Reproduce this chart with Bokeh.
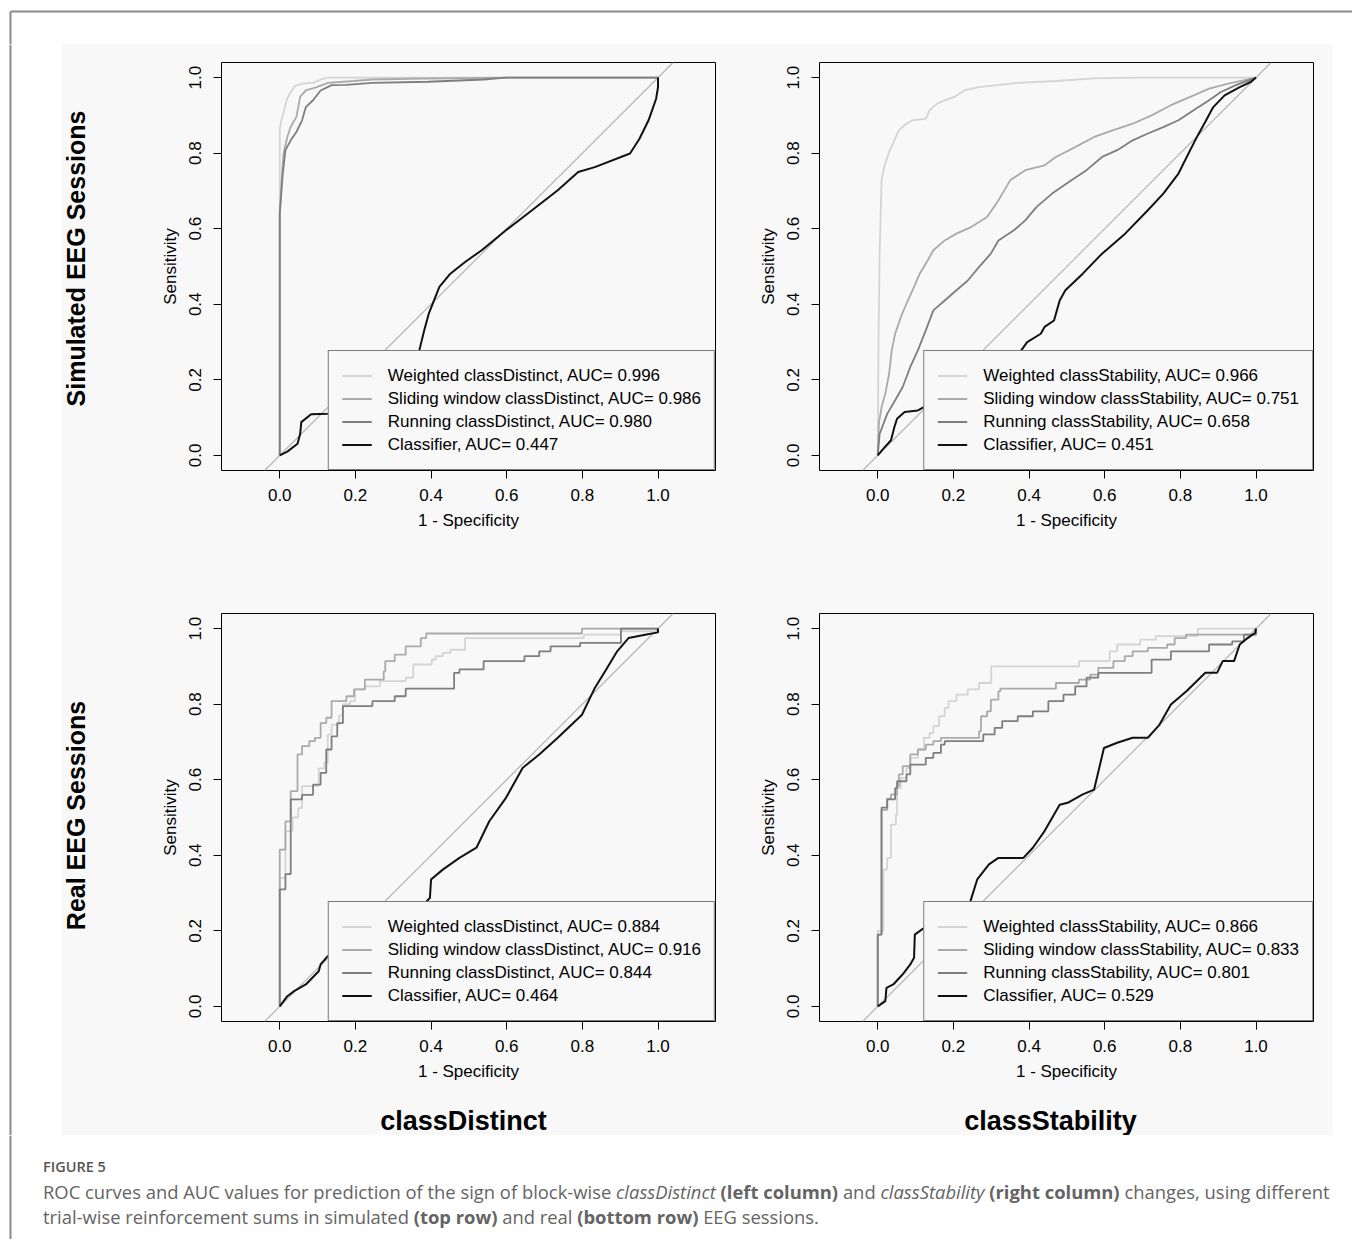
from bokeh.plotting import figure
from bokeh.models import (Range1d, Legend, LegendItem, Slope, FixedTicker,
                          NumeralTickFormatter, Div, Label)
from bokeh.layouts import column, row
from bokeh.embed import file_html
from bokeh.resources import INLINE
from bokeh.core.properties import value

# ---------------------------------------------------------------- data
TICKS = [0.0, 0.2, 0.4, 0.6, 0.8, 1.0]

# Simulated sessions, classDistinct
SIM_DIST_AUC = [0.996, 0.986, 0.980, 0.447]
SIM_DIST_W_X = [0, 0, 0.005, 0.012, 0.018, 0.027, 0.039, 0.059, 0.088, 0.108, 0.127, 1.0]
SIM_DIST_W_Y = [0, 0.865, 0.89, 0.914, 0.94, 0.958, 0.977, 0.984, 0.986, 0.995, 1.0, 1.0]
SIM_DIST_S_X = [0, 0, 0.005, 0.01, 0.02, 0.029, 0.044, 0.054, 0.069, 0.098, 0.127, 0.196, 0.245, 0.343, 0.598, 1.0]
SIM_DIST_S_Y = [0, 0.64, 0.73, 0.80, 0.843, 0.87, 0.896, 0.949, 0.966, 0.975, 0.986, 0.991, 0.995, 0.997, 1.0, 1.0]
SIM_DIST_R_X = [0, 0, 0.008, 0.015, 0.029, 0.044, 0.059, 0.069, 0.088, 0.108, 0.137, 0.176, 0.245, 0.392, 0.539, 0.598, 1.0]
SIM_DIST_R_Y = [0, 0.64, 0.746, 0.808, 0.834, 0.856, 0.887, 0.922, 0.94, 0.966, 0.98, 0.981, 0.986, 0.989, 0.995, 1.0, 1.0]
SIM_DIST_C_X = [0, 0.02, 0.047, 0.054, 0.057, 0.083, 0.127, 0.2, 0.3, 0.368, 0.382, 0.394, 0.422, 0.451, 0.49,
                0.534, 0.598, 0.667, 0.735, 0.789, 0.833, 0.926, 0.951, 0.975, 0.995, 1.0, 1.0]
SIM_DIST_C_Y = [0, 0.01, 0.031, 0.057, 0.088, 0.109, 0.110, 0.15, 0.21, 0.274, 0.331, 0.375, 0.446, 0.481, 0.512,
                0.543, 0.596, 0.649, 0.702, 0.75, 0.763, 0.799, 0.838, 0.887, 0.944, 0.975, 1.0]

# Simulated sessions, classStability
SIM_STAB_AUC = [0.966, 0.751, 0.658, 0.451]
SIM_STAB_W_X = [0, 0.002, 0.005, 0.01, 0.017, 0.03, 0.044, 0.056, 0.076, 0.091, 0.127, 0.137, 0.157, 0.177,
                0.203, 0.228, 0.268, 0.37, 0.471, 0.572, 0.674, 1.0]
SIM_STAB_W_Y = [0, 0.30, 0.534, 0.728, 0.763, 0.803, 0.834, 0.861, 0.878, 0.887, 0.891, 0.914, 0.931, 0.94,
                0.949, 0.966, 0.975, 0.986, 0.991, 0.998, 1.0, 1.0]
SIM_STAB_S_X = [0, 0.003, 0.01, 0.02, 0.03, 0.037, 0.046, 0.061, 0.076, 0.096, 0.111, 0.132, 0.147, 0.177, 0.208,
                0.248, 0.289, 0.319, 0.35, 0.39, 0.441, 0.471, 0.522, 0.572, 0.623, 0.674, 0.724, 0.775, 0.826,
                0.876, 0.927, 0.978, 1.0]
SIM_STAB_S_Y = [0, 0.084, 0.128, 0.163, 0.216, 0.278, 0.322, 0.366, 0.402, 0.446, 0.481, 0.516, 0.543, 0.569, 0.587,
                0.605, 0.631, 0.675, 0.728, 0.755, 0.768, 0.79, 0.816, 0.843, 0.861, 0.878, 0.9, 0.927, 0.949,
                0.971, 0.984, 0.995, 1.0]
SIM_STAB_R_X = [0, 0.005, 0.025, 0.046, 0.066, 0.086, 0.106, 0.127, 0.147, 0.177, 0.208, 0.238, 0.268, 0.299,
                0.319, 0.36, 0.39, 0.42, 0.461, 0.512, 0.552, 0.593, 0.633, 0.674, 0.714, 0.755, 0.795, 0.836,
                0.876, 0.907, 0.947, 1.0]
SIM_STAB_R_Y = [0, 0.057, 0.11, 0.146, 0.181, 0.234, 0.278, 0.331, 0.384, 0.41, 0.437, 0.463, 0.499, 0.534,
                0.569, 0.596, 0.622, 0.658, 0.693, 0.728, 0.755, 0.79, 0.808, 0.834, 0.852, 0.869, 0.887, 0.914,
                0.94, 0.962, 0.98, 1.0]
SIM_STAB_C_X = [0, 0.015, 0.035, 0.044, 0.051, 0.071, 0.106, 0.2, 0.3, 0.375, 0.395, 0.431, 0.441, 0.466, 0.481,
                0.496, 0.542, 0.593, 0.654, 0.714, 0.755, 0.795, 0.826, 0.846, 0.866, 0.887, 0.917, 0.957, 0.987, 1.0]
SIM_STAB_C_Y = [0, 0.018, 0.04, 0.075, 0.097, 0.115, 0.119, 0.17, 0.23, 0.272, 0.3, 0.322, 0.34, 0.357, 0.41,
                0.437, 0.481, 0.534, 0.587, 0.649, 0.693, 0.746, 0.808, 0.847, 0.883, 0.922, 0.953, 0.975, 0.989, 1.0]

# Real sessions, classDistinct (ROC points; step curves)
REAL_DIST_AUC = [0.884, 0.916, 0.844, 0.464]
REAL_DIST_W_X = [0, 0, 0.015, 0.034, 0.049, 0.059, 0.103, 0.118, 0.127, 0.137, 0.157, 0.167, 0.186, 0.199, 0.225,
                 0.265, 0.333, 0.353, 0.402, 0.412, 0.431, 0.451, 0.49, 0.804, 0.902, 1.0]
REAL_DIST_W_Y = [0, 0.34, 0.464, 0.5, 0.525, 0.583, 0.63, 0.645, 0.72, 0.746, 0.77, 0.8, 0.808, 0.839, 0.847,
                 0.861, 0.87, 0.905, 0.918, 0.927, 0.936, 0.944, 0.975, 0.984, 0.993, 1.0]
REAL_DIST_S_X = [0, 0, 0.015, 0.029, 0.047, 0.059, 0.078, 0.093, 0.108, 0.123, 0.137, 0.176, 0.196, 0.225, 0.275,
                 0.279, 0.304, 0.333, 0.373, 0.387, 0.799, 1.0]
REAL_DIST_S_Y = [0, 0.415, 0.49, 0.57, 0.667, 0.689, 0.702, 0.711, 0.75, 0.764, 0.808, 0.821, 0.839, 0.865, 0.887,
                 0.914, 0.931, 0.953, 0.975, 0.987, 1.0, 1.0]
REAL_DIST_R_X = [0, 0, 0.015, 0.029, 0.059, 0.088, 0.108, 0.123, 0.137, 0.152, 0.167, 0.245, 0.304, 0.333, 0.461,
                 0.475, 0.539, 0.647, 0.686, 0.716, 0.794, 0.902, 1.0]
REAL_DIST_R_Y = [0, 0.31, 0.35, 0.548, 0.56, 0.587, 0.618, 0.68, 0.715, 0.75, 0.795, 0.808, 0.821, 0.841, 0.883,
                 0.892, 0.914, 0.927, 0.94, 0.953, 0.962, 1.0, 1.0]
REAL_DIST_C_X = [0, 0.02, 0.039, 0.069, 0.103, 0.108, 0.127, 0.2, 0.3, 0.382, 0.397, 0.4, 0.431, 0.475, 0.52, 0.554,
                 0.598, 0.642, 0.686, 0.735, 0.799, 0.833, 0.863, 0.892, 0.922, 0.966, 1.0, 1.0]
REAL_DIST_C_Y = [0, 0.027, 0.041, 0.058, 0.093, 0.111, 0.133, 0.18, 0.24, 0.272, 0.287, 0.336, 0.362, 0.393, 0.42,
                 0.49, 0.552, 0.631, 0.667, 0.711, 0.772, 0.843, 0.892, 0.94, 0.975, 0.984, 0.99, 1.0]

# Real sessions, classStability (ROC points; step curves)
REAL_STAB_AUC = [0.866, 0.833, 0.801, 0.529]
REAL_STAB_W_X = [0, 0, 0.015, 0.025, 0.035, 0.048, 0.051, 0.061, 0.076, 0.086, 0.106, 0.122, 0.137, 0.147, 0.162,
                 0.177, 0.187, 0.208, 0.238, 0.268, 0.3, 0.532, 0.613, 0.633, 0.694, 0.735, 0.846, 1.0]
REAL_STAB_W_Y = [0, 0.2, 0.362, 0.393, 0.481, 0.508, 0.578, 0.605, 0.631, 0.658, 0.68, 0.711, 0.724, 0.742, 0.768,
                 0.79, 0.808, 0.825, 0.839, 0.856, 0.9, 0.914, 0.94, 0.958, 0.971, 0.98, 1.0, 1.0]
REAL_STAB_S_X = [0, 0, 0.01, 0.025, 0.035, 0.051, 0.056, 0.066, 0.086, 0.106, 0.127, 0.147, 0.167, 0.268, 0.273,
                 0.289, 0.299, 0.319, 0.324, 0.471, 0.532, 0.562, 0.583, 0.623, 0.653, 0.674, 0.714, 0.765, 0.785,
                 0.815, 0.998, 1.0]
REAL_STAB_S_Y = [0, 0.19, 0.52, 0.55, 0.561, 0.583, 0.614, 0.636, 0.667, 0.68, 0.693, 0.702, 0.711, 0.728, 0.768,
                 0.781, 0.812, 0.834, 0.841, 0.856, 0.865, 0.878, 0.896, 0.914, 0.927, 0.94, 0.949, 0.958, 0.975,
                 0.984, 1.0, 1.0]
REAL_STAB_R_X = [0, 0, 0.01, 0.025, 0.046, 0.051, 0.076, 0.086, 0.127, 0.147, 0.167, 0.177, 0.279, 0.309, 0.329,
                 0.37, 0.41, 0.451, 0.491, 0.522, 0.552, 0.583, 0.724, 0.775, 0.876, 0.937, 0.968, 1.0]
REAL_STAB_R_Y = [0, 0.19, 0.526, 0.548, 0.578, 0.596, 0.614, 0.64, 0.658, 0.671, 0.693, 0.702, 0.72, 0.737, 0.755,
                 0.768, 0.781, 0.808, 0.825, 0.847, 0.87, 0.883, 0.918, 0.94, 0.958, 0.966, 0.984, 1.0]
REAL_STAB_C_X = [0, 0.02, 0.023, 0.041, 0.066, 0.086, 0.096, 0.098, 0.117, 0.18, 0.243, 0.263, 0.294, 0.319, 0.385,
                 0.41, 0.441, 0.481, 0.502, 0.542, 0.572, 0.598, 0.633, 0.674, 0.714, 0.745, 0.775, 0.816, 0.866,
                 0.897, 0.912, 0.942, 0.957, 0.978, 0.998, 1.0]
REAL_STAB_C_Y = [0, 0.014, 0.049, 0.058, 0.085, 0.111, 0.129, 0.19, 0.204, 0.24, 0.272, 0.336, 0.376, 0.393, 0.393,
                 0.42, 0.464, 0.534, 0.539, 0.561, 0.574, 0.684, 0.698, 0.711, 0.711, 0.746, 0.799, 0.834, 0.883,
                 0.883, 0.914, 0.914, 0.958, 0.975, 0.989, 1.0]

ROW_LABELS = ["Simulated EEG Sessions", "Real EEG Sessions"]
COL_LABELS = ["classDistinct", "classStability"]

# ---------------------------------------------------------------- style
BG = "#f8f8f8"
FONT = "Liberation Sans"
COLORS = ["#d4d4d4", "#aaaaaa", "#7e7e7e", "#111111"]
WIDTHS = [1.8, 1.8, 1.8, 2.0]
DIAG = "#b6b6b6"
FRAME = "#8a8a8a"
FRAME_W, FRAME_H = 494, 408


def panel(curves, measure, aucs, steps, bl, br, bt, bb):
    p = figure(frame_width=FRAME_W, frame_height=FRAME_H,
               x_range=Range1d(-0.154, 1.152), y_range=Range1d(-0.04, 1.04),
               min_border_left=bl, min_border_right=br, min_border_top=bt, min_border_bottom=bb,
               output_backend="svg", toolbar_location=None)
    p.background_fill_color = BG
    p.border_fill_color = BG
    p.outline_line_color = "black"
    p.outline_line_width = 1
    p.xgrid.visible = False
    p.ygrid.visible = False
    p.add_layout(Slope(gradient=1, y_intercept=0, line_color=DIAG, line_width=1.2, level="underlay"))

    renderers = []
    for (xs, ys), color, lw, is_step in zip(curves, COLORS, WIDTHS, steps):
        if is_step:
            r = p.step(xs, ys, mode="after", line_color=color, line_width=lw)
        else:
            r = p.line(xs, ys, line_color=color, line_width=lw)
        renderers.append(r)

    for ax in (p.xaxis[0], p.yaxis[0]):
        ax.ticker = FixedTicker(ticks=TICKS)
        ax.formatter = NumeralTickFormatter(format="0.0")
        ax.axis_line_color = None
        ax.major_tick_out = 8
        ax.major_tick_in = 0
        ax.major_tick_line_color = "black"
        ax.minor_tick_line_color = None
        ax.major_label_text_font = FONT
        ax.major_label_text_font_size = "17px"
        ax.major_label_text_color = "black"
        ax.axis_label_text_font = FONT
        ax.axis_label_text_font_size = "17px"
        ax.axis_label_text_font_style = "normal"
        ax.axis_label_text_color = "black"
    p.xaxis.axis_label = "1 - Specificity"
    p.yaxis.axis_label = "Sensitivity"
    p.xaxis.major_label_standoff = 10
    p.xaxis.axis_label_standoff = 7
    p.yaxis.major_label_orientation = "parallel"
    p.yaxis.major_label_standoff = 12
    p.yaxis.axis_label_standoff = 7

    labels = ["Weighted %s, AUC= %.3f" % (measure, aucs[0]),
              "Sliding window %s, AUC= %.3f" % (measure, aucs[1]),
              "Running %s, AUC= %.3f" % (measure, aucs[2]),
              "Classifier, AUC= %.3f" % aucs[3]]
    legend = Legend(items=[LegendItem(label=l, renderers=[r]) for l, r in zip(labels, renderers)],
                    location="bottom_right", margin=0, padding=13, spacing=0,
                    glyph_width=30, glyph_height=23, label_height=23, label_standoff=16,
                    label_text_font=FONT, label_text_font_size="17px", label_text_color="black",
                    border_line_color="black", border_line_width=1,
                    background_fill_color=BG, background_fill_alpha=1.0)
    p.add_layout(legend)
    return p


def blank(w, h, bg):
    # plain drawing area, local pixel coordinates (0,0) at bottom-left
    f = figure(width=w, height=h, x_range=Range1d(0, w), y_range=Range1d(0, h),
               x_axis_type=None, y_axis_type=None, min_border=0,
               output_backend="svg", toolbar_location=None)
    f.outline_line_color = None
    f.background_fill_color = bg
    f.border_fill_color = bg
    f.xgrid.visible = False
    f.ygrid.visible = False
    return f


def row_label(text, bt, bb, y_local):
    # same vertical borders as the panels of its row, so its frame lines up with theirs;
    # local coordinates: y = 0 at the panels' frame bottom
    f = figure(frame_width=58, frame_height=FRAME_H, x_range=Range1d(0, 58), y_range=Range1d(0, FRAME_H),
               x_axis_type=None, y_axis_type=None, min_border_left=0, min_border_right=0,
               min_border_top=bt, min_border_bottom=bb, output_backend="svg", toolbar_location=None)
    f.outline_line_color = None
    f.background_fill_color = BG
    f.border_fill_color = BG
    f.xgrid.visible = False
    f.ygrid.visible = False
    f.add_layout(Label(x=13, y=y_local, text=text, angle=1.5707963, text_align="center",
                       text_baseline="middle", text_font=FONT, text_font_style="bold",
                       text_font_size="25px", text_color="black"))
    return f


p1 = panel([(SIM_DIST_W_X, SIM_DIST_W_Y), (SIM_DIST_S_X, SIM_DIST_S_Y), (SIM_DIST_R_X, SIM_DIST_R_Y),
            (SIM_DIST_C_X, SIM_DIST_C_Y)], COL_LABELS[0], SIM_DIST_AUC,
           [False, False, False, False], 101, 40, 18, 124)
p2 = panel([(SIM_STAB_W_X, SIM_STAB_W_Y), (SIM_STAB_S_X, SIM_STAB_S_Y), (SIM_STAB_R_X, SIM_STAB_R_Y),
            (SIM_STAB_C_X, SIM_STAB_C_Y)], COL_LABELS[1], SIM_STAB_AUC,
           [False, False, False, False], 64, 20, 18, 124)
p3 = panel([(REAL_DIST_W_X, REAL_DIST_W_Y), (REAL_DIST_S_X, REAL_DIST_S_Y), (REAL_DIST_R_X, REAL_DIST_R_Y),
            (REAL_DIST_C_X, REAL_DIST_C_Y)], COL_LABELS[0], REAL_DIST_AUC,
           [True, True, True, False], 101, 40, 19, 66)
p4 = panel([(REAL_STAB_W_X, REAL_STAB_W_Y), (REAL_STAB_S_X, REAL_STAB_S_Y), (REAL_STAB_R_X, REAL_STAB_R_Y),
            (REAL_STAB_C_X, REAL_STAB_C_Y)], COL_LABELS[1], REAL_STAB_AUC,
           [True, True, True, False], 64, 20, 19, 66)

# row labels: page x 62..120; frames page y 62..470 and 613..1021
rl1 = row_label(ROW_LABELS[0], 18, 124, 470 - 258)
rl2 = row_label(ROW_LABELS[1], 19, 66, 1021 - 815)

# column labels: page y 1087..1135
cl = blank(1271, 48, BG)
cl.text(x=[401, 988], y=[15, 15], text=COL_LABELS, text_align="center", text_baseline="middle",
        text_font=value(FONT), text_font_style="bold", text_font_size="27px", text_color="black")

# outer frame strips
top = blank(1352, 44, "white")
top.segment(x0=[10, 10], y0=[33, 33], x1=[1352, 10], y1=[33, 0], line_color=FRAME, line_width=2)
left = blank(62, 1091, "white")
left.segment(x0=[10], y0=[0], x1=[10], y1=[1091], line_color=FRAME, line_width=2)
left2 = blank(35, 104, "white")
left2.segment(x0=[10], y0=[0], x1=[10], y1=[104], line_color=FRAME, line_width=2)

caption = Div(width=1317, height=104, text=(
    '<div style="font-family:\'Open Sans\'; color:#646464; padding-top:14px; padding-left:3px; '
    'white-space:nowrap;">'
    '<div style="font-size:14.5px; font-weight:600; line-height:25px; color:#555;">FIGURE 5</div>'
    '<div style="font-size:18.4px; line-height:25px;">ROC curves and AUC values for prediction of the sign '
    'of block-wise <i>classDistinct</i> <b>(left column)</b> and <i>classStability</i> '
    '<b>(right column)</b> changes, using different<br>trial-wise reinforcement sums in simulated '
    '<b>(top row)</b> and real <b>(bottom row)</b> EEG sessions.</div></div>'))

GRAY_STYLE = {"background-color": BG}
gray_block = column(row(rl1, p1, p2, spacing=0, styles=GRAY_STYLE),
                    row(rl2, p3, p4, spacing=0, styles=GRAY_STYLE),
                    cl, spacing=0, styles=GRAY_STYLE)
layout = column(top, row(left, gray_block, spacing=0), row(left2, caption, spacing=0), spacing=0)

open("out.html", "w").write(file_html(layout, INLINE))
